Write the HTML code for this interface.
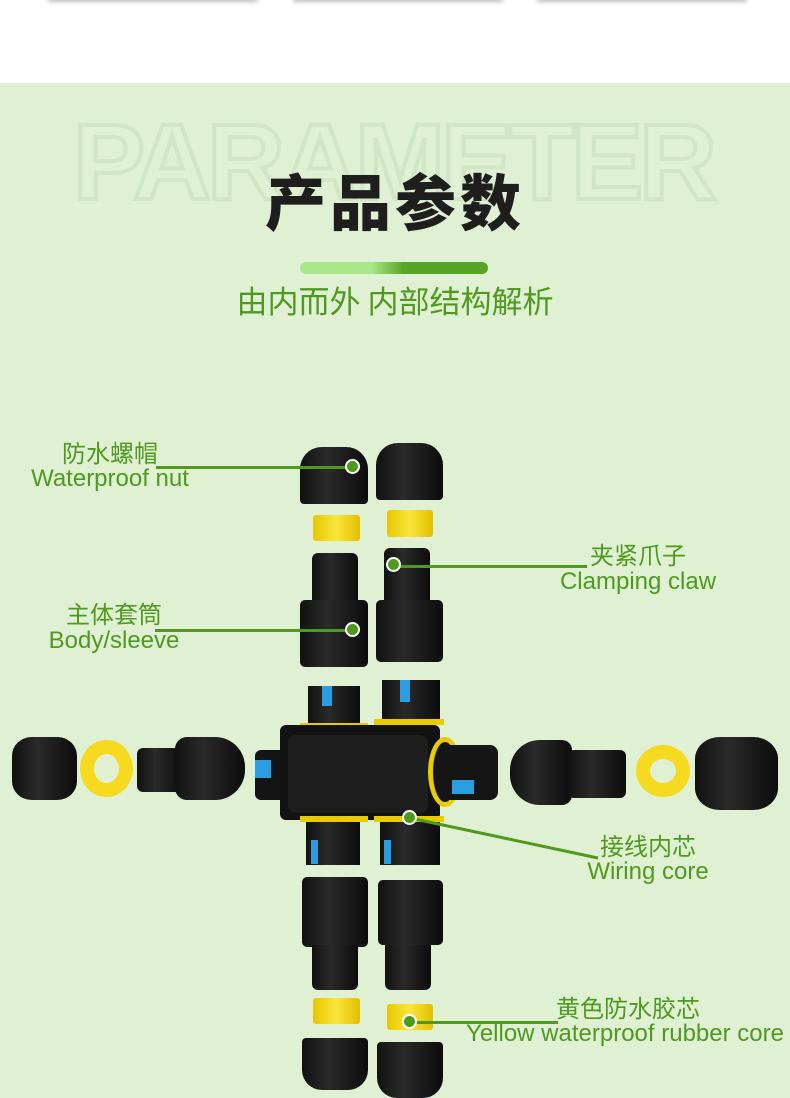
<!DOCTYPE html>
<html><head><meta charset="utf-8"><style>
*{margin:0;padding:0;box-sizing:border-box}
body{width:790px;height:1098px;position:relative;overflow:hidden;background:#fff;font-family:"Liberation Sans","Noto Sans CJK SC",sans-serif}
.a{position:absolute}
.bg{left:0;top:83px;width:790px;height:1015px;background:#dff0d3}
.card{top:-10px;height:10px;background:#fff;box-shadow:0 2px 4px rgba(0,0,0,.25)}
.blk{background:linear-gradient(90deg,#111,#2a2a2a 40%,#0c0c0c);}
.yel{background:linear-gradient(90deg,#e6c800,#fbe53a 50%,#e0c000);}
.lbl{color:#4f9a1e;font-family:"Liberation Sans","Noto Sans CJK SC",sans-serif;font-size:24px;line-height:24px;text-align:center;white-space:nowrap}
.ln{height:3px;background:#4f9a1e}
.dot{width:15px;height:15px;border-radius:50%;background:#4f9a1e;border:2px solid #fff}
</style></head><body>
<div class="a card" style="left:48px;width:210px"></div>
<div class="a card" style="left:293px;width:210px"></div>
<div class="a card" style="left:537px;width:210px"></div>
<div class="a bg"></div>
<div class="a" style="left:58px;top:106px;width:670px;font-size:108px;font-weight:bold;color:transparent;-webkit-text-stroke:4px #d0e6c4;letter-spacing:-4px;line-height:112px;text-align:center">PARAMETER</div>
<div class="a" style="left:0;top:162px;width:790px;text-align:center;font-size:61px;font-weight:900;color:#1e1e1e;font-family:'Noto Sans CJK SC',sans-serif;line-height:74px;letter-spacing:4px">产品参数</div>
<div class="a" style="left:300px;top:262px;width:188px;height:12px;border-radius:6px;background:linear-gradient(90deg,#a9e88a,#a9e88a 38%,#56a526 55%,#56a526)"></div>
<div class="a" style="left:0;top:279px;width:790px;text-align:center;font-size:31px;color:#4f9a1e;font-family:'Noto Sans CJK SC',sans-serif;line-height:42px">由内而外 内部结构解析</div>

<div class="a blk" style="left:300px;top:447px;width:68px;height:57px;border-radius:22px 22px 4px 4px"></div>
<div class="a blk" style="left:376px;top:443px;width:67px;height:57px;border-radius:22px 22px 4px 4px"></div>
<div class="a yel" style="left:313px;top:515px;width:47px;height:26px;border-radius:3px"></div>
<div class="a yel" style="left:387px;top:510px;width:46px;height:27px;border-radius:3px"></div>
<div class="a blk" style="left:312px;top:553px;width:46px;height:50px;border-radius:6px 6px 0 0"></div>
<div class="a blk" style="left:300px;top:600px;width:68px;height:67px;border-radius:5px"></div>
<div class="a blk" style="left:384px;top:548px;width:46px;height:55px;border-radius:6px 6px 0 0"></div>
<div class="a blk" style="left:376px;top:600px;width:67px;height:62px;border-radius:5px"></div>
<div class="a blk" style="left:308px;top:686px;width:52px;height:42px"></div>
<div class="a" style="left:322px;top:686px;width:10px;height:20px;background:#2a9ee0"></div>
<div class="a blk" style="left:382px;top:680px;width:58px;height:45px"></div>
<div class="a" style="left:400px;top:680px;width:10px;height:22px;background:#2a9ee0"></div>
<div class="a" style="left:300px;top:723px;width:68px;height:6px;background:#e8cc00"></div>
<div class="a" style="left:374px;top:719px;width:70px;height:6px;background:#e8cc00"></div>
<div class="a" style="left:255px;top:750px;width:32px;height:50px;background:#141414;border-radius:6px 0 0 6px"></div>
<div class="a" style="left:255px;top:760px;width:16px;height:18px;background:#2a9ee0"></div>
<div class="a" style="left:280px;top:725px;width:160px;height:95px;background:#121212;border-radius:6px"></div>
<div class="a" style="left:288px;top:735px;width:140px;height:78px;background:#1e1e1e;border-radius:8px"></div>
<div class="a" style="left:428px;top:737px;width:34px;height:70px;border-radius:50%;border:5px solid #e8cc00;background:#151515"></div>
<div class="a" style="left:440px;top:745px;width:58px;height:55px;background:#151515;border-radius:8px"></div>
<div class="a" style="left:452px;top:780px;width:22px;height:14px;background:#2a9ee0"></div>
<div class="a blk" style="left:12px;top:737px;width:65px;height:63px;border-radius:30%"></div>
<div class="a" style="left:80px;top:740px;width:53px;height:57px;border-radius:50%;border:14px solid #f5da20"></div>
<div class="a blk" style="left:137px;top:748px;width:45px;height:44px;border-radius:6px"></div>
<div class="a blk" style="left:175px;top:737px;width:70px;height:63px;border-radius:12px 30px 30px 12px"></div>
<div class="a blk" style="left:510px;top:740px;width:62px;height:65px;border-radius:30px 10px 10px 30px"></div>
<div class="a blk" style="left:568px;top:750px;width:58px;height:48px;border-radius:6px"></div>
<div class="a" style="left:636px;top:745px;width:54px;height:52px;border-radius:50%;border:14px solid #f5da20"></div>
<div class="a blk" style="left:695px;top:737px;width:83px;height:73px;border-radius:30%"></div>
<div class="a" style="left:300px;top:816px;width:68px;height:6px;background:#e8cc00"></div>
<div class="a" style="left:374px;top:816px;width:70px;height:6px;background:#e8cc00"></div>
<div class="a blk" style="left:306px;top:822px;width:54px;height:43px"></div>
<div class="a blk" style="left:380px;top:822px;width:60px;height:43px"></div>
<div class="a" style="left:311px;top:840px;width:7px;height:24px;background:#2a9ee0"></div>
<div class="a" style="left:384px;top:840px;width:7px;height:24px;background:#2a9ee0"></div>
<div class="a blk" style="left:302px;top:877px;width:66px;height:70px;border-radius:5px"></div>
<div class="a blk" style="left:312px;top:945px;width:46px;height:45px;border-radius:0 0 6px 6px"></div>
<div class="a blk" style="left:378px;top:880px;width:65px;height:65px;border-radius:5px"></div>
<div class="a blk" style="left:385px;top:945px;width:46px;height:45px;border-radius:0 0 6px 6px"></div>
<div class="a yel" style="left:313px;top:998px;width:47px;height:26px;border-radius:3px"></div>
<div class="a yel" style="left:387px;top:1004px;width:46px;height:26px;border-radius:3px"></div>
<div class="a blk" style="left:302px;top:1038px;width:66px;height:52px;border-radius:4px 4px 20px 20px"></div>
<div class="a blk" style="left:377px;top:1042px;width:66px;height:56px;border-radius:4px 4px 20px 20px"></div>

<div class="a lbl" style="left:10px;top:443px;width:200px">防水螺帽</div>
<div class="a lbl" style="left:10px;top:467px;width:200px">Waterproof nut</div>
<div class="a ln" style="left:156px;top:466px;width:196px"></div>
<div class="a dot" style="left:345px;top:459px"></div>

<div class="a lbl" style="left:538px;top:545px;width:200px">夹紧爪子</div>
<div class="a lbl" style="left:538px;top:570px;width:200px">Clamping claw</div>
<div class="a ln" style="left:393px;top:565px;width:194px"></div>
<div class="a dot" style="left:386px;top:557px"></div>

<div class="a lbl" style="left:14px;top:604px;width:200px">主体套筒</div>
<div class="a lbl" style="left:14px;top:629px;width:200px">Body/sleeve</div>
<div class="a ln" style="left:155px;top:629px;width:197px"></div>
<div class="a dot" style="left:345px;top:622px"></div>

<svg class="a" style="left:0;top:0" width="790" height="1098"><line x1="410" y1="818" x2="598" y2="858" stroke="#4f9a1e" stroke-width="3"/></svg>
<div class="a dot" style="left:402px;top:810px"></div>
<div class="a lbl" style="left:548px;top:836px;width:200px">接线内芯</div>
<div class="a lbl" style="left:548px;top:860px;width:200px">Wiring core</div>

<div class="a lbl" style="left:518px;top:998px;width:220px">黄色防水胶芯</div>
<div class="a lbl" style="left:455px;top:1022px;width:340px">Yellow waterproof rubber core</div>
<div class="a ln" style="left:410px;top:1021px;width:148px"></div>
<div class="a dot" style="left:402px;top:1014px"></div>
</body></html>
